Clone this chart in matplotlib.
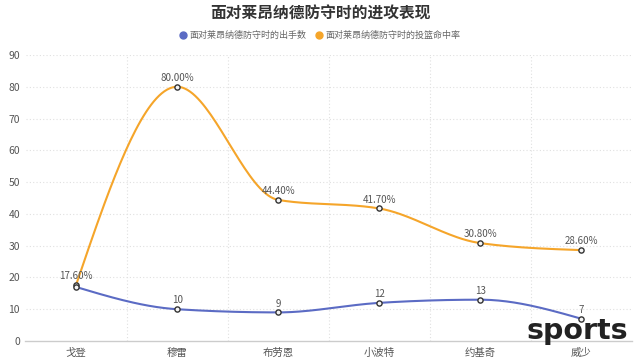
import numpy as np
import matplotlib
matplotlib.use("Agg")
import matplotlib.pyplot as plt

plt.rcParams['font.family'] = ['Noto Sans CJK SC', 'DejaVu Sans']

# --- 数据 ---
players = ["戈登", "穆雷", "布劳恩", "小波特", "约基奇", "威少"]
shots = [17, 10, 9, 12, 13, 7]
fg_pct = [17.6, 80.0, 44.4, 41.7, 30.8, 28.6]

title = "面对莱昂纳德防守时的进攻表现"
name_shots = "面对莱昂纳德防守时的出手数"
name_pct = "面对莱昂纳德防守时的投篮命中率"

BLUE = "#5b6bc4"
ORANGE = "#f5a52a"


# 单调三次插值 (同 d3.curveMonotoneX)
def smooth_line(xs, ys, n=40):
    xs = np.asarray(xs, float)
    ys = np.asarray(ys, float)
    h = np.diff(xs)
    s = np.diff(ys) / h
    m = np.zeros(len(xs))
    for i in range(1, len(xs) - 1):
        p = (s[i - 1] * h[i] + s[i] * h[i - 1]) / (h[i - 1] + h[i])
        m[i] = (np.sign(s[i - 1]) + np.sign(s[i])) * min(abs(s[i - 1]), abs(s[i]), 0.5 * abs(p))
    m[0] = (3 * s[0] - m[1]) / 2
    m[-1] = (3 * s[-1] - m[-2]) / 2
    t = np.linspace(0, 1, n)[1:]
    a, b, c, e = (1 - t) ** 3, 3 * (1 - t) ** 2 * t, 3 * (1 - t) * t ** 2, t ** 3
    out_x, out_y = [xs[0]], [ys[0]]
    for k in range(len(xs) - 1):
        dx = h[k] / 3
        x0, x3 = xs[k], xs[k + 1]
        y0, y3 = ys[k], ys[k + 1]
        x1, y1 = x0 + dx, y0 + dx * m[k]
        x2, y2 = x3 - dx, y3 - dx * m[k + 1]
        out_x.extend(a * x0 + b * x1 + c * x2 + e * x3)
        out_y.extend(a * y0 + b * y1 + c * y2 + e * y3)
    return np.array(out_x), np.array(out_y)


fig = plt.figure(figsize=(6.4, 3.62), dpi=100)
ax = fig.add_axes([25.5 / 640, 21 / 362, 606.5 / 640, 286 / 362])

x = np.arange(len(players))
ax.set_xlim(-0.5, len(players) - 0.5)
ax.set_ylim(0, 90)

# 网格
for v in np.arange(10, 91, 10):
    ax.axhline(v, color="#e0e0e0", lw=0.8, ls=(0, (1, 2)), zorder=0)
for v in np.arange(0.5, len(players) - 0.5, 1):
    ax.axvline(v, color="#e0e0e0", lw=0.8, ls=(0, (1, 2)), zorder=0)

for s in ["top", "right", "left"]:
    ax.spines[s].set_visible(False)
ax.spines["bottom"].set_color("#cccccc")
ax.spines["bottom"].set_linewidth(1)

ax.set_yticks(np.arange(0, 91, 10))
ax.set_xticks(x)
ax.set_xticklabels(players)
ax.tick_params(axis="both", length=0, labelsize=7.5, labelcolor="#555555")
ax.tick_params(axis="x", pad=5)
ax.tick_params(axis="y", pad=4)

# 折线
for vals, col in [(fg_pct, ORANGE), (shots, BLUE)]:
    sx, sy = smooth_line(x, vals)
    ax.plot(sx, sy, color=col, lw=1.5, zorder=3)
    ax.scatter(x, vals, s=14, facecolor="#f5f5f5", edgecolor="#333333", lw=1.0, zorder=4)

# 第一个出手数标签被命中率标签遮挡, 与原图一致不显示
for i, v in enumerate(shots):
    if i == 0:
        continue
    ax.text(i, v + 1.2, str(v), ha="center", va="bottom", fontsize=7, color="#555555", zorder=5)
for i, v in enumerate(fg_pct):
    ax.text(i, v + 1.2, f"{v:.2f}%", ha="center", va="bottom", fontsize=7, color="#555555", zorder=5)

# 标题与图例
fig.text(0.5, 1 - 14 / 362, title, ha="center", va="center", fontsize=11.3,
         fontweight="bold", color="#333333")
ly = 1 - 35 / 362
fig.lines.append(plt.Line2D([183 / 640], [ly], marker="o", ms=5, color=BLUE, transform=fig.transFigure))
fig.text(189 / 640, ly, name_shots, ha="left", va="center", fontsize=6.5, color="#666666")
fig.lines.append(plt.Line2D([319 / 640], [ly], marker="o", ms=5, color=ORANGE, transform=fig.transFigure))
fig.text(325 / 640, ly, name_pct, ha="left", va="center", fontsize=6.5, color="#666666")

# 水印
fig.text(628 / 640, 1 - 339 / 362, "sports", ha="right", va="baseline", fontsize=20.5,
         fontweight="bold", color="#222222", family=["DejaVu Sans"])

fig.savefig("out.png", dpi=100)
